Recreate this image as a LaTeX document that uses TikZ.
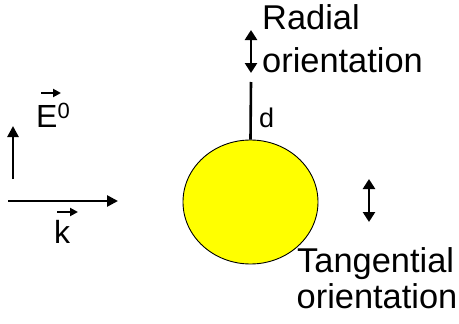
\documentclass[tikz,border=0pt]{standalone}
\usepackage{fontspec}
\setmainfont{Liberation Sans}
\usetikzlibrary{arrows.meta,shapes.geometric}
\begin{document}
\begin{tikzpicture}[x=1pt,y=-1pt,
  bigtext/.style={font=\fontsize{34.4}{37}\selectfont, inner sep=0pt, anchor=base west},
  midtext/.style={font=\fontsize{32}{34}\selectfont, inner sep=0pt, anchor=base west},
  smalltext/.style={font=\fontsize{27}{29}\selectfont, inner sep=0pt, anchor=base west},
  thickarrow/.style={line width=2.6pt, -{Triangle[width=11pt,length=11pt]}},
  dblarrow/.style={line width=2.6pt, {Triangle[width=12pt,length=10pt]}-{Triangle[width=12pt,length=10pt]}},
  vecarrow/.style={line width=2pt, -{Triangle[width=8pt,length=8pt]}}]
\useasboundingbox (0,0) rectangle (459,324);
% sphere
\node[ellipse, draw=black, line width=0.9pt, fill={rgb,255:red,255;green,255;blue,0},
      minimum width=135pt, minimum height=124pt, inner sep=0pt] (sphere) at (250.5,202) {};
% distance line
\coordinate (dtop) at (251,82);
\draw[line width=2.6pt] (sphere.north) -- (dtop);
\node[smalltext] (dlab) at (259,128) {d};
% radial
\coordinate (r1) at (251,30);
\coordinate (r2) at (251,73);
\draw[dblarrow] (r1) -- (r2);
\node[bigtext] (rad1) at (262,30) {Radial};
\node[bigtext] (rad2) at (262,73) {orientation};
% tangential
\coordinate (t1) at (369,179);
\coordinate (t2) at (369,222);
\draw[dblarrow] (t1) -- (t2);
\node[bigtext] (tan1) at (297,272) {Tangential};
\node[bigtext] (tan2) at (296.5,308) {orientation};
% E field
\coordinate (e1) at (13,179);
\coordinate (e2) at (13,126);
\draw[thickarrow] (e1) -- (e2);
\node[midtext] (E) at (36,127) {E\raisebox{0.28em}{\fontsize{22}{23}\selectfont 0}};
\coordinate (ev1) at (41,93);
\coordinate (ev2) at (61,93);
\draw[vecarrow] (ev1) -- (ev2);
% k vector
\coordinate (k1) at (8,201);
\coordinate (k2) at (118,201);
\draw[thickarrow] (k1) -- (k2);
\node[midtext] (k) at (54,243) {k};
\coordinate (kv1) at (57,212);
\coordinate (kv2) at (78,212);
\draw[vecarrow] (kv1) -- (kv2);
\end{tikzpicture}
\end{document}
